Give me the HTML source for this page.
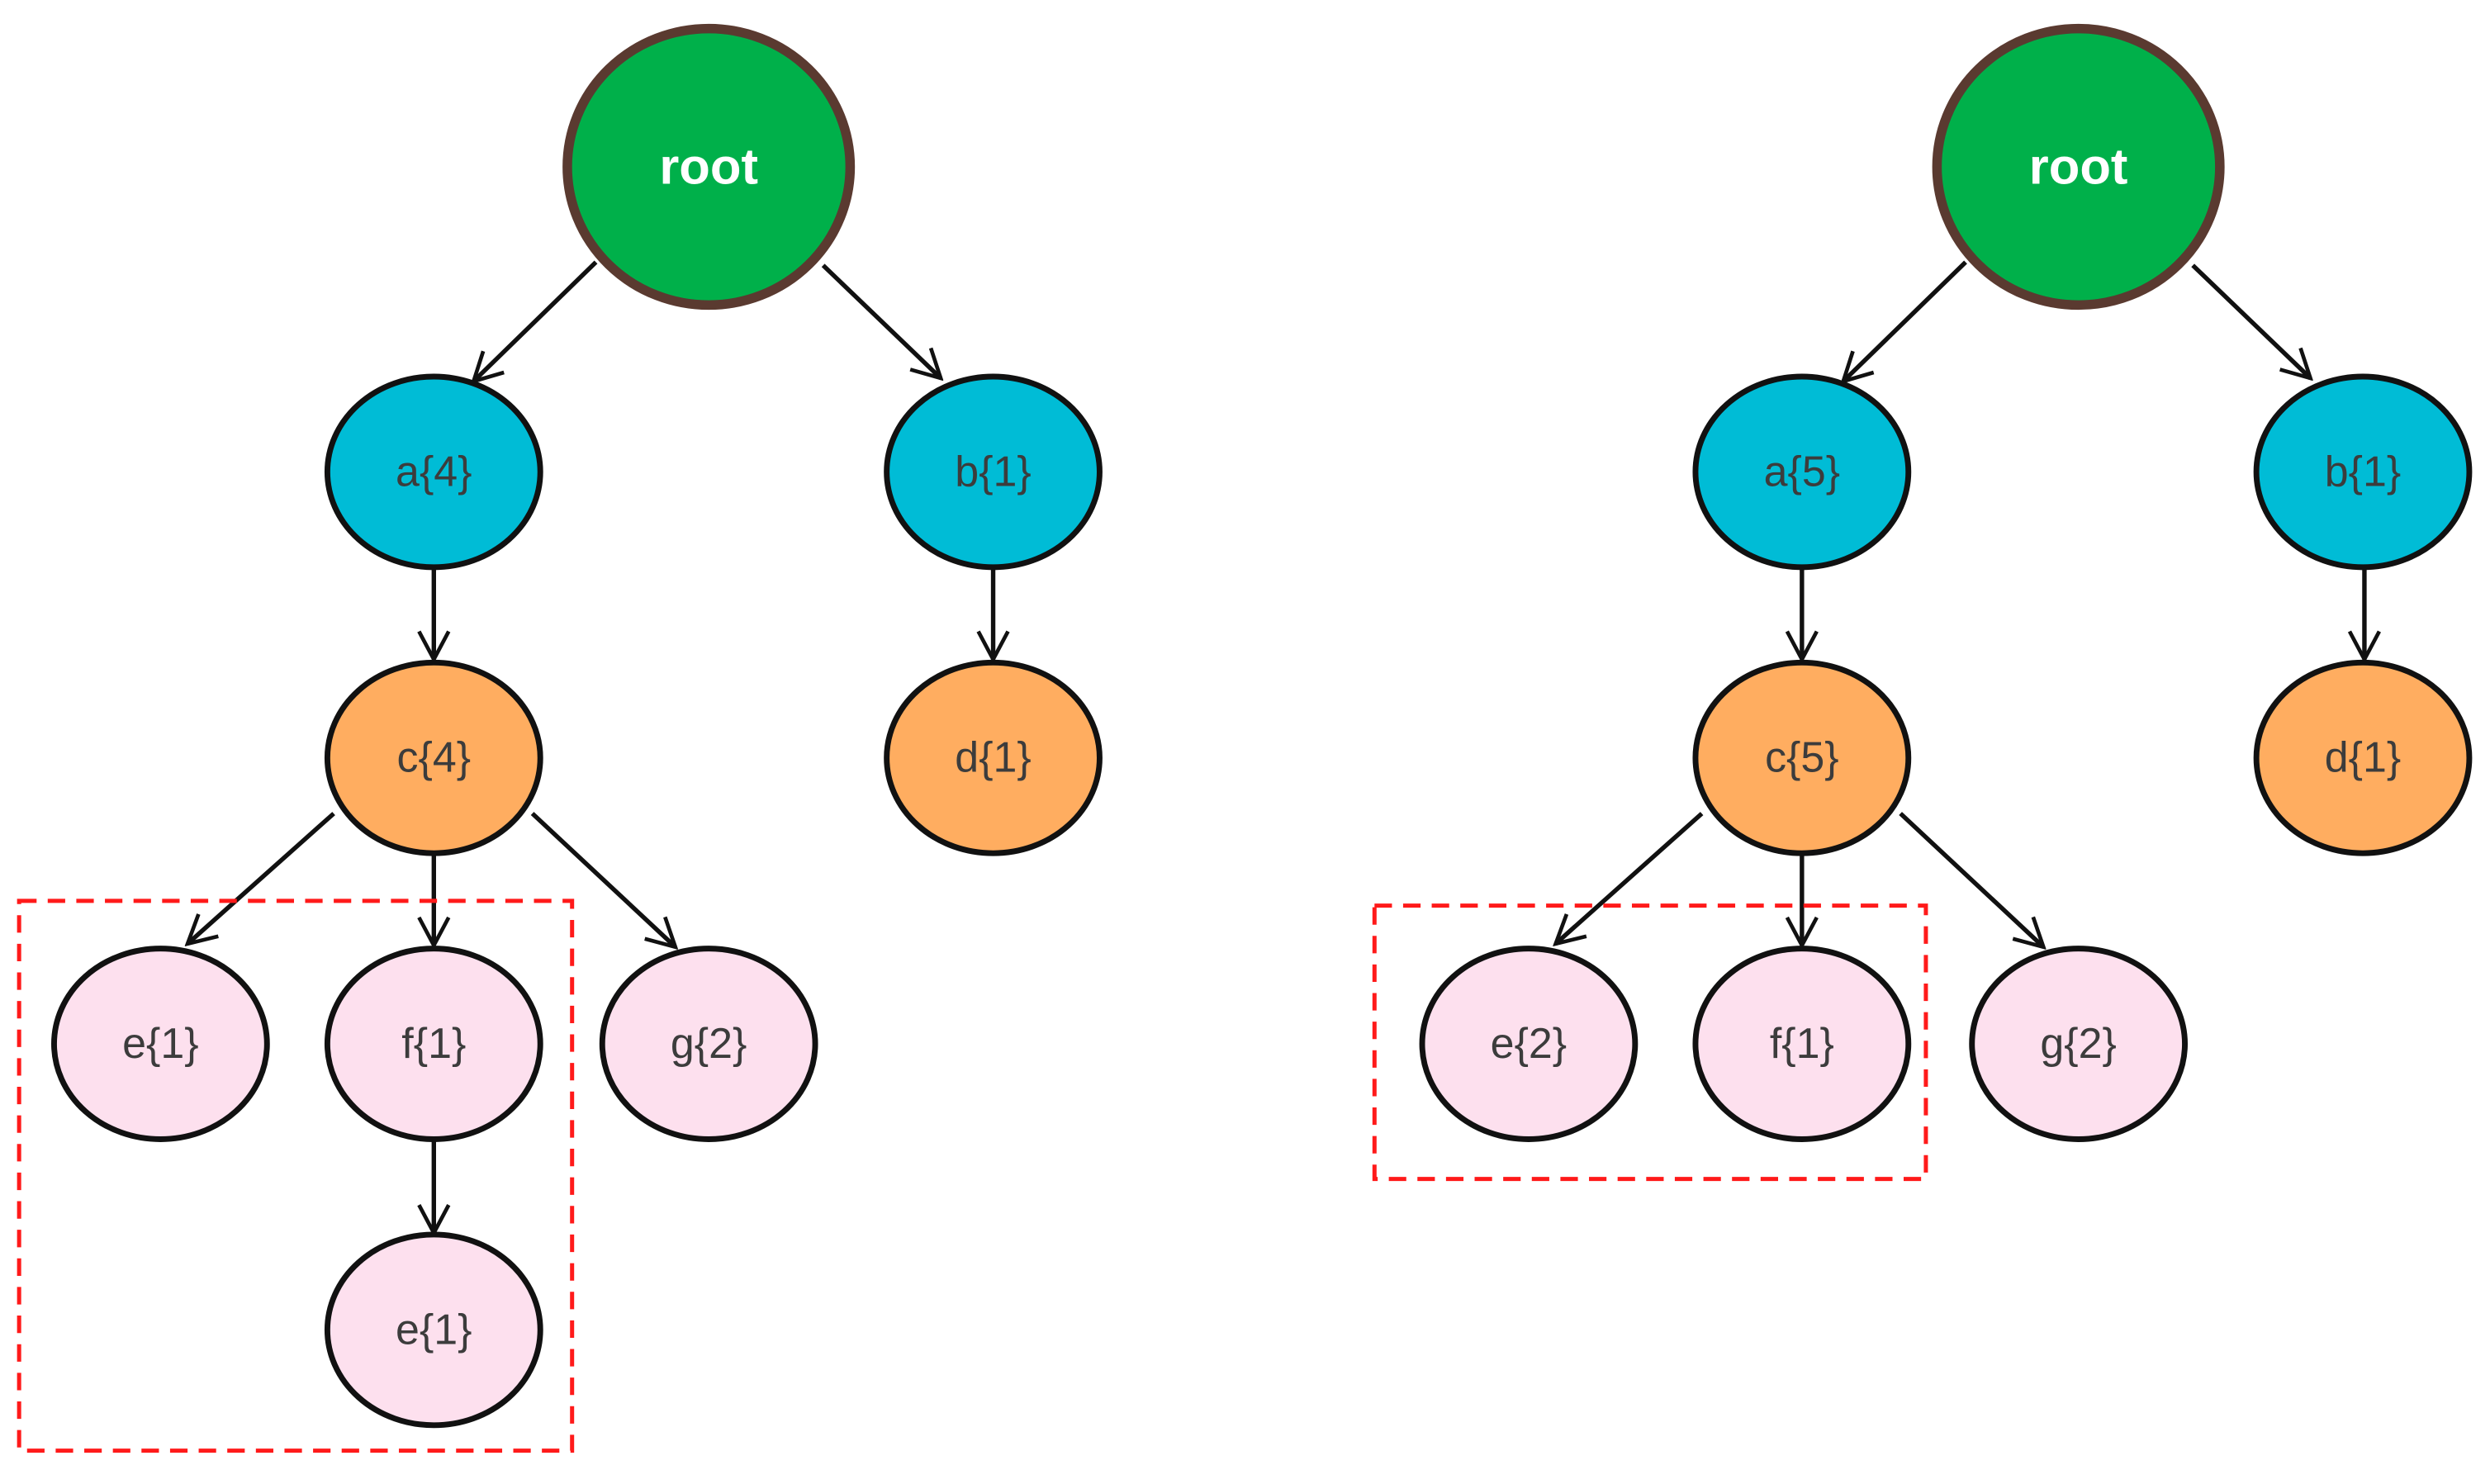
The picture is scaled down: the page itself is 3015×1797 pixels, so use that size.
<!DOCTYPE html>
<html><head><meta charset="utf-8"><style>
html,body{margin:0;padding:0;background:#fff;}
svg{display:block;}
text{font-family:"Liberation Sans","DejaVu Sans",sans-serif;text-anchor:middle;dominant-baseline:central;}
.t{font-size:27px;fill:#3c3c3c;}
.r{font-size:32px;fill:#fff;font-weight:bold;}
.n{stroke:#111;stroke-width:3.6;}
.e{stroke:#111;stroke-width:2.8;fill:none;marker-end:url(#ah);}
.box{fill:none;stroke:#ff1a1a;stroke-width:2.6;stroke-dasharray:11 7;}
</style></head><body>
<svg width="3015" height="1797" viewBox="0 0 1567 934" xmlns="http://www.w3.org/2000/svg">
<defs>
<marker id="ah" viewBox="0 0 20 20" refX="18" refY="10" markerWidth="22" markerHeight="22" markerUnits="userSpaceOnUse" orient="auto">
<polyline points="2,1.5 18,10 2,18.5" fill="none" stroke="#111" stroke-width="2.2"/>
</marker>
</defs>
<g id="L">
<line class="e" x1="375" y1="165" x2="298" y2="240"/>
<line class="e" x1="518" y1="167" x2="592" y2="238"/>
<line class="e" x1="273" y1="357" x2="273" y2="415"/>
<line class="e" x1="625" y1="357" x2="625" y2="415"/>
<line class="e" x1="210" y1="512" x2="118" y2="594"/>
<line class="e" x1="273" y1="537" x2="273" y2="595"/>
<line class="e" x1="335" y1="512" x2="425" y2="596"/>
<line class="e" x1="273" y1="717" x2="273" y2="776"/>
<ellipse cx="446" cy="105" rx="89" ry="87" fill="#00b04a" stroke="#5a3a30" stroke-width="6"/>
<text class="r" x="446" y="105">root</text>
<ellipse class="n" cx="273" cy="297" rx="67" ry="60" fill="#00bcd6"/><text class="t" x="273" y="297">a{4}</text>
<ellipse class="n" cx="625" cy="297" rx="67" ry="60" fill="#00bcd6"/><text class="t" x="625" y="297">b{1}</text>
<ellipse class="n" cx="273" cy="477" rx="67" ry="60" fill="#ffad60"/><text class="t" x="273" y="477">c{4}</text>
<ellipse class="n" cx="625" cy="477" rx="67" ry="60" fill="#ffad60"/><text class="t" x="625" y="477">d{1}</text>
<ellipse class="n" cx="101" cy="657" rx="67" ry="60" fill="#fde0ee"/><text class="t" x="101" y="657">e{1}</text>
<ellipse class="n" cx="273" cy="657" rx="67" ry="60" fill="#fde0ee"/><text class="t" x="273" y="657">f{1}</text>
<ellipse class="n" cx="446" cy="657" rx="67" ry="60" fill="#fde0ee"/><text class="t" x="446" y="657">g{2}</text>
<ellipse class="n" cx="273" cy="837" rx="67" ry="60" fill="#fde0ee"/><text class="t" x="273" y="837">e{1}</text>
<rect class="box" x="12" y="567" width="348" height="346"/>
</g>
<g id="R">
<line class="e" x1="1237" y1="165" x2="1160" y2="240"/>
<line class="e" x1="1380" y1="167" x2="1454" y2="238"/>
<line class="e" x1="1134" y1="357" x2="1134" y2="415"/>
<line class="e" x1="1488" y1="357" x2="1488" y2="415"/>
<line class="e" x1="1071" y1="512" x2="979" y2="594"/>
<line class="e" x1="1134" y1="537" x2="1134" y2="595"/>
<line class="e" x1="1196" y1="512" x2="1286" y2="596"/>
<ellipse cx="1308" cy="105" rx="89" ry="87" fill="#00b04a" stroke="#5a3a30" stroke-width="6"/>
<text class="r" x="1308" y="105">root</text>
<ellipse class="n" cx="1134" cy="297" rx="67" ry="60" fill="#00bcd6"/><text class="t" x="1134" y="297">a{5}</text>
<ellipse class="n" cx="1487" cy="297" rx="67" ry="60" fill="#00bcd6"/><text class="t" x="1487" y="297">b{1}</text>
<ellipse class="n" cx="1134" cy="477" rx="67" ry="60" fill="#ffad60"/><text class="t" x="1134" y="477">c{5}</text>
<ellipse class="n" cx="1487" cy="477" rx="67" ry="60" fill="#ffad60"/><text class="t" x="1487" y="477">d{1}</text>
<ellipse class="n" cx="962" cy="657" rx="67" ry="60" fill="#fde0ee"/><text class="t" x="962" y="657">e{2}</text>
<ellipse class="n" cx="1134" cy="657" rx="67" ry="60" fill="#fde0ee"/><text class="t" x="1134" y="657">f{1}</text>
<ellipse class="n" cx="1308" cy="657" rx="67" ry="60" fill="#fde0ee"/><text class="t" x="1308" y="657">g{2}</text>
<rect class="box" x="865" y="570" width="347" height="172"/>
</g>
</svg>
</body></html>
